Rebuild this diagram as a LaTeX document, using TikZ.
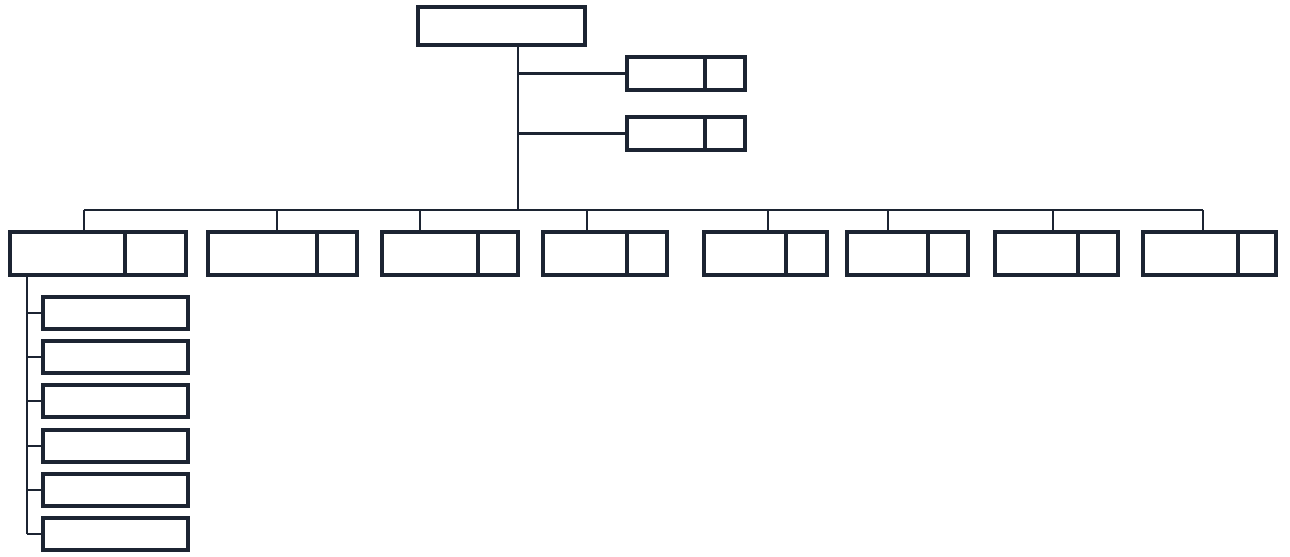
\documentclass[tikz,border=0pt]{standalone}
\usepackage{tikz}
\usetikzlibrary{positioning}
\definecolor{boxline}{RGB}{28,36,50}
\begin{document}
\begin{tikzpicture}[x=0.02cm, y=-0.02cm, line width=1.3pt, boxline,
  unitbox/.style={draw=boxline, fill=white, line width=1.9pt, inner sep=0pt, outer sep=0pt, anchor=north west},
  cellbox/.style={draw=boxline, fill=white, line width=1.9pt, inner sep=0pt, outer sep=0pt, right=0pt of #1}]
  \useasboundingbox (0,0) rectangle (1290,557);
  % head of the chart
  \node[unitbox, minimum width=3.34cm, minimum height=0.76cm] (head) at (418,7) {};
  \coordinate (trunk) at (518,210);
  \draw (head.south -| trunk) -- (trunk);
  % staff units on the trunk
  \foreach \i/\y in {1/57, 2/117}
  {
    \node[unitbox, minimum width=1.56cm, minimum height=0.66cm] (staff\i) at (627,\y) {};
    \node[cellbox=staff\i, minimum width=0.8cm, minimum height=0.66cm] (staff\i c) {};
    \draw (staff\i.west) -- (staff\i.west -| trunk);
  }
  % departments on the bus
  \foreach \i/\l/\d/\r/\t in {1/10/125/186/84, 2/208/317/357/277, 3/382/478/518/420,
      4/543/627/667/587, 5/704/786/827/768, 6/847/928/968/888,
      7/995/1078/1118/1053, 8/1143/1238/1276/1203}
  {
    \node[unitbox, minimum width={(\d-\l)*0.02cm}, minimum height=0.86cm] (dep\i) at (\l,232) {};
    \node[cellbox=dep\i, minimum width={(\r-\d)*0.02cm}, minimum height=0.86cm] (dep\i c) {};
    \coordinate (drop\i) at (\t,210);
    \draw (drop\i) -- (drop\i |- dep\i.north);
  }
  \draw (drop1) -- (drop8);
  % sections under the first department
  \coordinate (rail) at (27,0);
  \foreach \i/\y in {1/297, 2/341, 3/385, 4/430, 5/474, 6/518}
  {
    \node[unitbox, minimum width=2.9cm, minimum height=0.64cm] (sec\i) at (43,\y) {};
    \draw (sec\i.west) -- (sec\i.west -| rail);
  }
  \draw (rail |- dep1.south) -- (rail |- sec6.west);
\end{tikzpicture}
\end{document}
